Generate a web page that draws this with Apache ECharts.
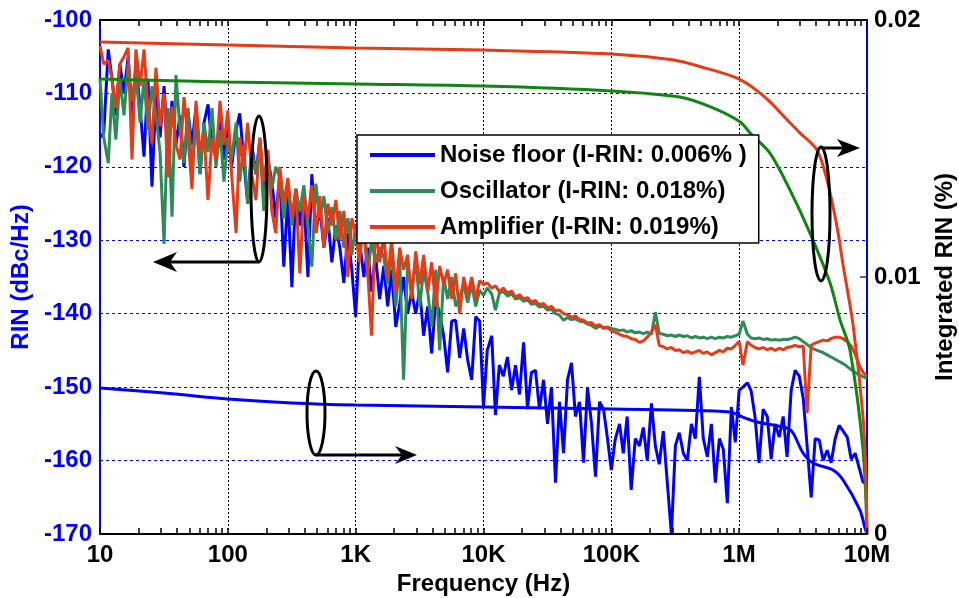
<!DOCTYPE html>
<html>
<head>
<meta charset="utf-8">
<script src="https://cdn.jsdelivr.net/npm/echarts@6/dist/echarts.min.js"></script>
<style>
  html, body { margin: 0; padding: 0; background: #fff; }
  #chart { width: 959px; height: 598px; }
</style>
</head>
<body>
<div id="chart"></div>
<script>
// frequency grid (Hz) shared by the three RIN spectra
const freq = [
  10, 10.7, 11.6, 12.4, 13.3, 14.3, 15.4, 16.6, 17.8, 19.1, 20.6, 22.1, 23.7, 25.5, 27.4, 29.5,
  31.7, 34, 36.6, 39.3, 42.3, 45.4, 48.8, 52.4, 56.4, 60.6, 65.1, 70, 75.2, 80.8, 86.9, 93.3,
  100, 107, 116, 124, 133, 143, 154, 166, 178, 191, 206, 221, 237, 255, 274, 295,
  317, 340, 366, 393, 423, 454, 488, 524, 564, 606, 651, 700, 752, 808, 869, 933,
  1000, 1070, 1160, 1240, 1330, 1430, 1540, 1660, 1780, 1910, 2060, 2210, 2370, 2550, 2740, 2950,
  3170, 3400, 3660, 3930, 4230, 4540, 4880, 5240, 5640, 6060, 6510, 7000, 7520, 8080, 8690, 9330,
  1e4, 1.07e4, 1.16e4, 1.24e4, 1.33e4, 1.43e4, 1.54e4, 1.66e4, 1.78e4, 1.91e4, 2.06e4, 2.21e4, 2.37e4, 2.55e4, 2.74e4, 2.95e4,
  3.17e4, 3.4e4, 3.66e4, 3.93e4, 4.23e4, 4.54e4, 4.88e4, 5.24e4, 5.64e4, 6.06e4, 6.51e4, 7e4, 7.52e4, 8.08e4, 8.69e4, 9.33e4,
  1e5, 1.07e5, 1.16e5, 1.24e5, 1.33e5, 1.43e5, 1.54e5, 1.66e5, 1.78e5, 1.91e5, 2.06e5, 2.21e5, 2.37e5, 2.55e5, 2.74e5, 2.95e5,
  3.17e5, 3.4e5, 3.66e5, 3.93e5, 4.23e5, 4.54e5, 4.88e5, 5.24e5, 5.64e5, 6.06e5, 6.51e5, 7e5, 7.52e5, 8.08e5, 8.69e5, 9.33e5,
  1e6, 1.07e6, 1.16e6, 1.24e6, 1.33e6, 1.43e6, 1.54e6, 1.66e6, 1.78e6, 1.91e6, 2.06e6, 2.21e6, 2.37e6, 2.55e6, 2.74e6, 2.95e6,
  3.17e6, 3.4e6, 3.66e6, 3.93e6, 4.23e6, 4.54e6, 4.88e6, 5.24e6, 5.64e6, 6.06e6, 6.51e6, 7e6, 7.52e6, 8.08e6, 8.69e6, 9.33e6,
  1e7
];

// RIN spectra, dBc/Hz (left axis)
const noiseFloorRin = [
  -116, -115.4, -104, -108, -113, -106, -110, -105,
  -113, -106, -112, -118.6, -108, -122.7, -110, -116,
  -109, -118, -111, -117, -113, -120, -112.5, -117,
  -111.8, -121, -114, -111.5, -117, -118.7, -113, -119,
  -114, -120, -115, -112.7, -119, -125, -117, -121,
  -116.3, -124, -119, -122, -127, -121, -133.6, -124,
  -136.4, -123, -128, -124, -135, -121, -129, -125.5,
  -131, -127, -133, -128, -131, -135.8, -129, -134,
  -140.4, -130, -135, -131, -137, -132, -138, -133.5,
  -139, -134, -141.8, -138.6, -135, -140, -137, -140,
  -136.8, -143, -139, -145.4, -138, -140, -143, -148,
  -141, -140.9, -146, -142, -146.3, -149, -140.4, -141,
  -152.7, -145, -143, -153.8, -147, -148.5, -145.9, -150.4,
  -147, -151, -143.9, -153, -148, -147.7, -153, -149,
  -155, -150, -163, -152, -159, -149, -146.7, -154,
  -152, -160.3, -150, -155, -162.2, -152, -153, -157,
  -161.3, -157.2, -155, -159, -154, -164, -157, -158,
  -155.5, -160, -152.2, -158, -160.5, -156, -163, -170,
  -158, -156.2, -159, -160, -155, -157, -148.6, -157,
  -159.5, -155, -163, -157, -158.5, -165.8, -152.7, -157.5,
  -150.4, -150, -149.4, -150.5, -154, -160.3, -153, -154,
  -159.8, -155, -156.8, -154, -159.5, -150.5, -147.7, -148.5,
  -151.5, -158, -165, -157, -157.2, -160, -158.6, -160.3,
  -157, -155.2, -156, -156.8, -159.8, -159, -161, -163,
  -162.7
];

const oscillatorRin = [
  -108, -116, -119.5, -110, -116.3, -108, -113, -106,
  -111, -107, -114, -108, -115, -109, -113, -118,
  -130.5, -112, -126.8, -107.5, -115, -119.5, -112, -121,
  -113, -121, -114, -118, -112, -120, -115, -122,
  -116, -119, -114, -122, -117, -125, -118, -121,
  -116.5, -126, -119, -123, -120, -121.4, -127, -122,
  -128, -123, -126, -122.5, -128, -133.6, -122.3, -127,
  -124, -129, -125.5, -130, -126, -131, -127, -132,
  -128, -131, -128.5, -135, -130, -133, -131, -132.3,
  -136, -131.5, -139, -132.5, -149, -133, -137, -132.5,
  -139, -134, -137, -141.8, -134, -145, -135, -138,
  -135, -139, -137.7, -136, -138.5, -136, -139, -136.8,
  -137.5, -136.5, -137.3, -139.5, -137.2, -137, -137.6, -137.3,
  -138, -137.8, -138.3, -138.1, -138.7, -138.6, -139.1, -139,
  -139.5, -139.4, -140, -140.2, -140.9, -140.5, -140.8, -140.7,
  -141, -141.1, -141.4, -141.6, -142, -141.7, -141.9, -141.8,
  -142, -142.1, -142.3, -142.2, -142.5, -142.3, -142.6, -142.5,
  -142.7, -142.5, -142.8, -139.8, -142.7, -142.8, -143, -142.9,
  -143.1, -142.9, -143.1, -143, -143.3, -143.1, -143.3, -143.2,
  -143.4, -143.2, -143.4, -143.2, -143.3, -143.1, -143.2, -143,
  -142.8, -141, -142.8, -143.3, -143.4, -143.3, -143.5, -143.4,
  -143.6, -143.5, -143.6, -143.5, -143.5, -143.4, -143.2, -143.4,
  -143.8, -144.2, -144.6, -144.9, -145.1, -145.3, -145.6, -145.9,
  -146.2, -146.5, -146.8, -147.2, -147.6, -148, -148.3, -148.6,
  -148.8
];

const amplifierRin = [
  -103.5, -106, -105.5, -108, -112, -106, -105, -103.8,
  -119, -104, -109, -104, -112, -116.8, -106.5, -114.5,
  -110, -121.4, -111.8, -117, -119, -110.5, -116, -123,
  -111, -118, -115.4, -124.5, -116, -119, -111, -117,
  -112.3, -121, -129, -116, -120, -114, -121, -124.5,
  -116, -122, -117.7, -126, -129, -120, -125, -121.5,
  -127, -123, -134.5, -124, -127, -122.5, -129, -124,
  -131, -125, -128, -124.5, -130, -126, -135, -127,
  -129, -133, -127, -134, -143, -128, -133, -129.5,
  -135, -130, -137, -131, -134, -132, -138, -131.5,
  -136, -132, -137, -133, -139, -133.5, -136, -134,
  -138, -134.5, -140, -135, -137.5, -135, -138, -135.5,
  -136, -135.8, -136.5, -136.2, -137, -136.5, -137.2, -136.9,
  -137.8, -137.4, -138, -137.8, -138.4, -138.2, -138.8, -138.6,
  -139.2, -139, -139.6, -139.5, -140, -140.1, -140.5, -140.3,
  -140.8, -140.9, -141.3, -141.2, -141.7, -141.5, -142, -141.9,
  -142.3, -142.5, -142.8, -143, -143.1, -143.4, -143.5, -143.9,
  -143.7, -143.2, -142.5, -141.5, -144.3, -144.5, -144.8, -144.6,
  -145, -144.9, -145.3, -145.1, -145.4, -145.2, -145, -145.4,
  -145.2, -145.6, -145.3, -145, -145.2, -144.7, -144.8, -144.3,
  -143.8, -147, -143.8, -144.3, -144.6, -144.8, -144.6, -144.9,
  -144.7, -145, -144.7, -144.9, -144.6, -144.5, -144.3, -144.5,
  -144.4, -153.5, -144.3, -144, -143.8, -143.6, -143.7, -143.4,
  -143.2, -143.2, -143.4, -143.8, -144.4, -145.5, -147, -148,
  -148.5
];

// integrated RIN, % (right axis)
const noiseFloorIntFreq = [10, 31.7, 100, 317, 1000, 1e4, 1e5, 8.47e5, 1.07e6, 1.38e6, 2.37e6, 2.64e6, 3.16e6, 3.78e6, 5.42e6, 6.5e6, 8.81e6, 9.6e6, 1e7];
const noiseFloorInt = [0.00568, 0.00549, 0.00525, 0.0051, 0.00502, 0.00494, 0.00486, 0.00475, 0.00455, 0.00436, 0.00412, 0.00393, 0.00315, 0.00276, 0.00249, 0.0021, 0.00093, 0.00027, 0];

const oscillatorIntFreq = [10, 100, 1000, 1e4, 1e5, 3.44e5, 6.24e5, 1.02e6, 1.22e6, 1.74e6, 2.5e6, 3.58e6, 5.14e6, 6.15e6, 7.36e6, 9.31e6, 1e7];
const oscillatorInt = [0.0177, 0.01759, 0.01751, 0.01743, 0.01724, 0.017, 0.01658, 0.01603, 0.0156, 0.01482, 0.01338, 0.01171, 0.00977, 0.00833, 0.00716, 0.00327, 0];

const amplifierIntFreq = [10, 100, 1000, 1e4, 1e5, 3e5, 5e5, 1e6, 1.59e6, 2.5e6, 3e6, 4.06e6, 4.87e6, 5.83e6, 6.5e6, 7.78e6, 9.31e6, 9.8e6, 1e7];
const amplifierInt = [0.01914, 0.01903, 0.01891, 0.01883, 0.01868, 0.01845, 0.01818, 0.0177, 0.017, 0.016, 0.0156, 0.01494, 0.01377, 0.01195, 0.01047, 0.00813, 0.00455, 0.0023, 0];

const xTickLabels = ['10', '100', '1K', '10K', '100K', '1M', '10M'];
const rightTickLabels = ['0', '0.01', '0.02'];
const decades = [10, 100, 1e3, 1e4, 1e5, 1e6, 1e7];
const minorSteps = [2, 3, 4, 5, 6, 7, 8, 9];

const names = [
  'Noise floor (I-RIN: 0.006% )',
  'Oscillator (I-RIN: 0.018%)',
  'Amplifier (I-RIN: 0.019%)'
];

const BLUE = '#0000ff';
const GREEN = '#2e8b57';
const GREEN_INT = '#0f870f';
const RED = '#e63b16';
const FONT = 'Liberation Sans, Arial, sans-serif';

const zip = (xs, ys) => xs.map((x, i) => [x, ys[i]]);

// tick positions for the log frequency axis: every decade plus 2..9 inside each decade
const minorTickValues = [];
decades.slice(0, 6).forEach((d) => minorSteps.forEach((s) => minorTickValues.push(d * s)));
const allTickValues = decades.concat(minorTickValues);

const chart = echarts.init(document.getElementById('chart'));

const spectrum = (name, values, color) => ({
  name: name,
  type: 'line',
  xAxisIndex: 0,
  yAxisIndex: 0,
  data: zip(freq, values),
  symbol: 'none',
  lineStyle: { width: 3, color: color },
  itemStyle: { color: color },
  z: 2
});

const integrated = (name, xs, ys, color) => ({
  name: name,
  type: 'line',
  xAxisIndex: 0,
  yAxisIndex: 1,
  data: zip(xs, ys),
  symbol: 'none',
  smooth: 0.3,
  lineStyle: { width: 3, color: color },
  itemStyle: { color: color },
  z: 3
});

const ellipse = (cx, cy, rx, ry) => ({
  type: 'ellipse',
  shape: { cx: cx, cy: cy, rx: rx, ry: ry },
  style: { fill: null, stroke: '#000', lineWidth: 3 },
  z: 100
});

const line = (x1, y1, x2, y2) => ({
  type: 'line',
  shape: { x1: x1, y1: y1, x2: x2, y2: y2 },
  style: { stroke: '#000', lineWidth: 3 },
  z: 100
});

const head = (points) => ({
  type: 'polygon',
  shape: { points: points },
  style: { fill: '#000' },
  z: 100
});

// frame axes carrying the decade + minor ticks (bottom one also has the labels)
const freqAxis = (position, withLabels) => ({
  type: 'log',
  logBase: 10,
  min: 10,
  max: 1e7,
  splitNumber: 6,
  position: position,
  name: withLabels ? 'Frequency (Hz)' : '',
  nameLocation: 'middle',
  nameGap: 38,
  nameTextStyle: { fontFamily: FONT, fontSize: 24, fontWeight: 'bold', color: '#000' },
  axisLine: { lineStyle: { color: '#000', width: 2 } },
  axisTick: { inside: true, length: 6, customValues: allTickValues, lineStyle: { color: '#000', width: 1.5 } },
  axisLabel: {
    show: withLabels,
    fontFamily: FONT, fontSize: 24, fontWeight: 'bold', color: '#000', margin: 9,
    formatter: (v) => xTickLabels[Math.round(Math.log10(v)) - 1]
  },
  splitLine: { show: false },
  z: 5
});

// invisible axis that only draws the dotted decade grid lines
const gridAxis = {
  type: 'log',
  logBase: 10,
  min: 10,
  max: 1e7,
  splitNumber: 6,
  position: 'bottom',
  axisLine: { show: false },
  axisTick: { show: false },
  axisLabel: { show: false },
  splitLine: { show: true, lineStyle: { color: '#000', width: 1, type: [2, 2] } }
};

const option = {
  animation: false,
  backgroundColor: '#fff',
  textStyle: { fontFamily: FONT },
  grid: { left: 100, right: 92, top: 20, bottom: 64, containLabel: false, outerBoundsMode: 'none' },
  legend: {
    data: names,
    orient: 'vertical',
    left: 357,
    top: 135,
    padding: [7, 12, 3, 13],
    itemGap: 10,
    itemWidth: 65,
    itemHeight: 4,
    icon: 'rect',
    backgroundColor: '#fff',
    borderColor: '#000',
    borderWidth: 1.5,
    borderRadius: 0,
    textStyle: { fontFamily: FONT, fontSize: 24, fontWeight: 'bold', color: '#000', lineHeight: 26 },
    z: 50
  },
  xAxis: [freqAxis('bottom', true), freqAxis('top', false), gridAxis],
  yAxis: [
    {
      type: 'value',
      min: -170,
      max: -100,
      interval: 10,
      position: 'left',
      name: 'RIN (dBc/Hz)',
      nameLocation: 'middle',
      nameRotate: 90,
      nameGap: 64,
      nameTextStyle: { fontFamily: FONT, fontSize: 24, fontWeight: 'bold', color: BLUE },
      axisLine: { show: true, lineStyle: { color: BLUE, width: 2 } },
      axisTick: { show: false },
      axisLabel: { fontFamily: FONT, fontSize: 24, fontWeight: 'bold', color: BLUE, margin: 8 },
      splitLine: { show: true, lineStyle: { color: BLUE, width: 1, type: [3, 3] } }
    },
    {
      type: 'value',
      min: 0,
      max: 0.02,
      interval: 0.01,
      position: 'right',
      name: 'Integrated RIN (%)',
      nameLocation: 'middle',
      nameRotate: 90,
      nameGap: 66,
      nameTextStyle: { fontFamily: FONT, fontSize: 24, fontWeight: 'bold', color: '#000' },
      axisLine: { show: true, lineStyle: { color: BLUE, width: 2 } },
      axisTick: { show: true, inside: true, length: 7, lineStyle: { color: '#333', width: 1.5 } },
      axisLabel: {
        fontFamily: FONT, fontSize: 24, fontWeight: 'bold', color: '#000', margin: 7,
        formatter: (v) => rightTickLabels[Math.round(v / 0.01)]
      },
      splitLine: { show: false }
    }
  ],
  series: [
    spectrum(names[0], noiseFloorRin, BLUE),
    spectrum(names[1], oscillatorRin, GREEN),
    spectrum(names[2], amplifierRin, RED),
    integrated('Noise floor integrated', noiseFloorIntFreq, noiseFloorInt, BLUE),
    integrated('Oscillator integrated', oscillatorIntFreq, oscillatorInt, GREEN_INT),
    integrated('Amplifier integrated', amplifierIntFreq, amplifierInt, RED)
  ],
  graphic: [
    // left-pointing marker for the RIN spectra
    ellipse(259, 189, 8, 73),
    line(259, 262, 168, 262),
    head([[153, 262], [177, 252], [170, 262], [177, 272]]),
    // right-pointing marker near the noise-floor integrated curve
    ellipse(316, 413, 9, 42),
    line(316, 455, 402, 455),
    head([[417, 455], [395, 446], [402, 455], [395, 464]]),
    // right-pointing marker for the integrated curves
    ellipse(821, 214, 9, 67),
    line(821, 148, 843, 148),
    head([[860, 148], [837, 139], [843, 148], [837, 157]])
  ]
};

chart.setOption(option);
</script>
</body>
</html>
